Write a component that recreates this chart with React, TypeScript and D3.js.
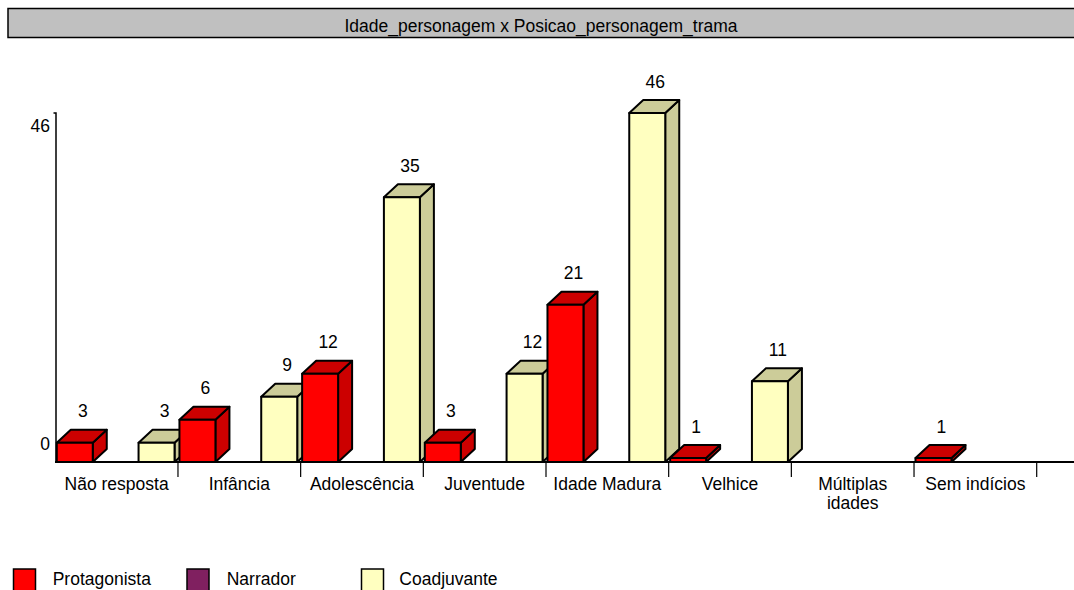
import { useEffect, useRef } from 'react';
import * as d3 from 'd3';

const categories = ['Não resposta', 'Infância', 'Adolescência', 'Juventude', 'Idade Madura', 'Velhice', 'Múltiplas idades', 'Sem indícios'];
const seriesNames = ['Protagonista', 'Narrador', 'Coadjuvante'];
const protagonista = [3, 6, 12, 3, 21, 1, 0, 1];
const narrador = [0, 0, 0, 0, 0, 0, 0, 0];
const coadjuvante = [3, 9, 35, 12, 46, 11, 0, 0];
const yTicks = [0, 46];
const title = 'Idade_personagem x Posicao_personagem_trama';

const FONT = '"Liberation Sans", Arial, sans-serif';
const colors = {
  Protagonista: { front: '#ff0000', shade: '#cc0000' },
  Narrador: { front: '#802060', shade: '#601848' },
  Coadjuvante: { front: '#ffffc0', shade: '#cccc99' },
} as Record<string, { front: string; shade: string }>;

export default function App() {
  const svgRef = useRef<SVGSVGElement>(null);

  useEffect(() => {
    if (!svgRef.current) return;
    const svg = d3.select(svgRef.current);
    svg.selectAll('*').remove();

    const width = 1074;
    const height = 590;
    const base = 462;
    const dx = 14;
    const dy = 13;

    // title box
    svg.append('rect')
      .attr('x', 8).attr('y', 8.5).attr('width', 1070).attr('height', 29)
      .attr('fill', '#c0c0c0').attr('stroke', '#000').attr('stroke-width', 1.5);
    svg.append('text')
      .attr('x', 541).attr('y', 31.5)
      .attr('text-anchor', 'middle')
      .attr('font-family', FONT).attr('font-size', 17.5)
      .text(title);

    const x0 = d3.scaleBand().domain(categories).range([55.3, 1036.7]).padding(0);
    const x1 = d3.scaleBand().domain(seriesNames).range([0, x0.bandwidth()])
      .paddingInner(0.12).paddingOuter(0.06).align(0.3);
    const y = d3.scaleLinear().domain([0.48, 46]).range([base, 113]);
    const yLabel = d3.scaleLinear().domain([0, 46]).range([450, 131.7]);

    // axes
    svg.append('line')
      .attr('x1', 55).attr('x2', width).attr('y1', base).attr('y2', base)
      .attr('stroke', '#000').attr('stroke-width', 2);
    svg.append('path')
      .attr('d', `M53.5,${y(46)}H56V${base}`)
      .attr('fill', 'none').attr('stroke', '#000').attr('stroke-width', 1.5);

    categories.forEach((c) => {
      const bx = (x0(c) ?? 0) + x0.bandwidth();
      svg.append('line')
        .attr('x1', bx).attr('x2', bx).attr('y1', base).attr('y2', 477)
        .attr('stroke', '#000').attr('stroke-width', 1.2);
    });

    yTicks.forEach((t) => {
      svg.append('text')
        .attr('x', 50).attr('y', yLabel(t))
        .attr('text-anchor', 'end')
        .attr('font-family', FONT).attr('font-size', 17.5)
        .text(t);
    });

    // category labels
    categories.forEach((c) => {
      const cx = (x0(c) ?? 0) + x0.bandwidth() / 2;
      const words = c === 'Múltiplas idades' ? ['Múltiplas', 'idades'] : [c];
      words.forEach((w, i) => {
        svg.append('text')
          .attr('x', cx).attr('y', 490 + i * 19)
          .attr('text-anchor', 'middle')
          .attr('font-family', FONT).attr('font-size', 17.5)
          .text(w);
      });
    });

    // bars (3D) drawn left to right
    const values: Record<string, number[]> = {
      Protagonista: protagonista,
      Narrador: narrador,
      Coadjuvante: coadjuvante,
    };
    const bw = x1.bandwidth();
    categories.forEach((c, ci) => {
      seriesNames.forEach((s) => {
        const v = values[s][ci];
        if (!v) return;
        const bx = (x0(c) ?? 0) + (x1(s) ?? 0);
        const by = y(v);
        const col = colors[s];
        const g = svg.append('g')
          .attr('stroke', '#000').attr('stroke-width', 2).attr('stroke-linejoin', 'round');
        g.append('path')
          .attr('d', `M${bx + bw},${base}L${bx + bw + dx},${base - dy}V${by - dy}L${bx + bw},${by}Z`)
          .attr('fill', col.shade);
        g.append('path')
          .attr('d', `M${bx},${by}L${bx + dx},${by - dy}H${bx + bw + dx}L${bx + bw},${by}Z`)
          .attr('fill', col.shade);
        g.append('rect')
          .attr('x', bx).attr('y', by).attr('width', bw).attr('height', base - by)
          .attr('fill', col.front);
        svg.append('text')
          .attr('x', bx + bw / 2 + 8).attr('y', by - dy - 12.5)
          .attr('text-anchor', 'middle')
          .attr('font-family', FONT).attr('font-size', 17.5)
          .text(v);
      });
    });

    // legend
    const legendX = [13.5, 187, 361.5];
    const legendTextX = [52.7, 226.7, 399.3];
    seriesNames.forEach((s, i) => {
      svg.append('rect')
        .attr('x', legendX[i]).attr('y', 569).attr('width', 22).attr('height', 22)
        .attr('fill', colors[s].front).attr('stroke', '#000').attr('stroke-width', 1.5);
      svg.append('text')
        .attr('x', legendTextX[i]).attr('y', 584.5)
        .attr('font-family', FONT).attr('font-size', 17.5)
        .text(s);
    });

    svg.attr('width', width).attr('height', height);
  }, []);

  return (
    <svg
      ref={svgRef}
      width={1074}
      height={590}
      style={{ position: 'absolute', left: 0, top: 0, background: '#fff' }}
    />
  );
}
